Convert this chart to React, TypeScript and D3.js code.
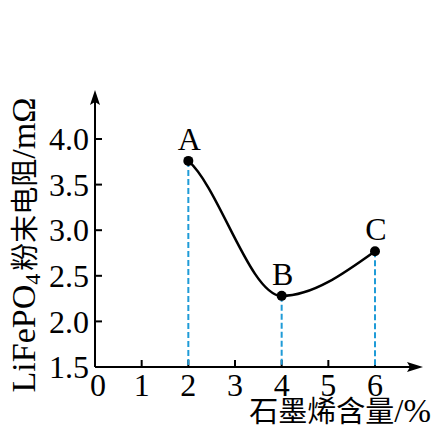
import React from "react";
import * as d3 from "d3";

const pointLabels = ["A", "B", "C"];
const grapheneContent = [2, 4, 6];
const resistance = [3.76, 2.28, 2.77];
const xTicks = [0, 1, 2, 3, 4, 5, 6];
const yTicks = [1.5, 2.0, 2.5, 3.0, 3.5, 4.0];
// tangent factors relative to neighbouring secants (curve shape)
const tangentFactor = [0.6, 0, 1.5];

const W = 432;
const H = 430;
const serif = "'Liberation Serif', 'DejaVu Serif', serif";
const cjk = "'Noto Sans CJK SC', sans-serif";
const blue = "#1f9bd7";

export default function App() {
  const x = d3.scaleLinear().domain([0, 6]).range([95, 375]);
  const y = d3.scaleLinear().domain([1.5, 4.0]).range([367, 139]);
  const x0 = x(0);
  const y0 = y(1.5);
  const pts = grapheneContent.map((g, i) => [x(g), y(resistance[i])] as [number, number]);

  // Hermite curve through the points
  const n = pts.length;
  const secant = (i: number) => (pts[i + 1][1] - pts[i][1]) / (pts[i + 1][0] - pts[i][0]);
  const slopes = pts.map((_, i) =>
    i === 0 ? tangentFactor[0] * secant(0) : i === n - 1 ? tangentFactor[i] * secant(n - 2) : tangentFactor[i] * (secant(i - 1) + secant(i)) / 2
  );
  const p = d3.path();
  p.moveTo(pts[0][0], pts[0][1]);
  for (let i = 0; i < n - 1; i++) {
    const h = pts[i + 1][0] - pts[i][0];
    p.bezierCurveTo(
      pts[i][0] + h / 3, pts[i][1] + (slopes[i] * h) / 3,
      pts[i + 1][0] - h / 3, pts[i + 1][1] - (slopes[i + 1] * h) / 3,
      pts[i + 1][0], pts[i + 1][1]
    );
  }
  const line = p.toString();

  return (
    <svg width={W} height={H} style={{ position: "absolute", left: 0, top: 0 }}>
      <rect width={W} height={H} fill="#fff" />
      {/* axes */}
      <line x1={x0} y1={y0} x2={412} y2={y0} stroke="#000" strokeWidth={2} />
      <path d={`M${423},${y0} L${407},${y0 - 5} L${410},${y0} L${407},${y0 + 5} Z`} fill="#000" />
      <line x1={x0} y1={y0} x2={x0} y2={102} stroke="#000" strokeWidth={2} />
      <path d={`M${x0},${90} L${x0 - 5},${105} L${x0},${102} L${x0 + 5},${105} Z`} fill="#000" />
      {/* y ticks */}
      {yTicks.map((t) => (
        <g key={"y" + t}>
          {t !== 1.5 && <line x1={x0} x2={x0 + 7} y1={y(t)} y2={y(t)} stroke="#000" strokeWidth={2} />}
          <text x={89} y={y(t)} dy="0.35em" textAnchor="end" fontFamily={serif} fontSize={32}>
            {t.toFixed(1)}
          </text>
        </g>
      ))}
      {/* x ticks */}
      {xTicks.map((t) => (
        <g key={"x" + t}>
          {t !== 0 && <line x1={x(t)} x2={x(t)} y1={y0} y2={y0 - 7} stroke="#000" strokeWidth={2} />}
          <text x={t === 0 ? x(t) + 3 : x(t)} y={396} textAnchor="middle" fontFamily={serif} fontSize={32}>
            {t}
          </text>
        </g>
      ))}
      {/* dashed drop lines */}
      {pts.map((q, i) => (
        <line key={"d" + i} x1={q[0]} x2={q[0]} y1={q[1]} y2={y0} stroke={blue} strokeWidth={2} strokeDasharray="6,3" />
      ))}
      {/* curve */}
      <path d={line} fill="none" stroke="#000" strokeWidth={2.5} />
      {pts.map((q, i) => (
        <circle key={"c" + i} cx={q[0]} cy={q[1]} r={5} fill="#000" />
      ))}
      {pts.map((q, i) => (
        <text key={"l" + i} x={q[0] + 1} y={q[1] - 11} textAnchor="middle" fontFamily={serif} fontSize={32}>
          {pointLabels[i]}
        </text>
      ))}
      {/* x title */}
      <text x={431} y={422} textAnchor="end">
        <tspan fontFamily={cjk} fontSize={29}>石墨烯含量</tspan>
        <tspan fontFamily={serif} fontSize={33}>/%</tspan>
      </text>
      {/* y title */}
      <text transform={`translate(35,245) rotate(-90)`} textAnchor="middle">
        <tspan fontFamily={serif} fontSize={34}>LiFePO</tspan>
        <tspan fontFamily={serif} fontSize={22} dy={5}>4</tspan>
        <tspan fontFamily={cjk} fontSize={28} dy={-5} dx={3}>粉末电阻</tspan>
        <tspan fontFamily={serif} fontSize={34}>/mΩ</tspan>
      </text>
    </svg>
  );
}
